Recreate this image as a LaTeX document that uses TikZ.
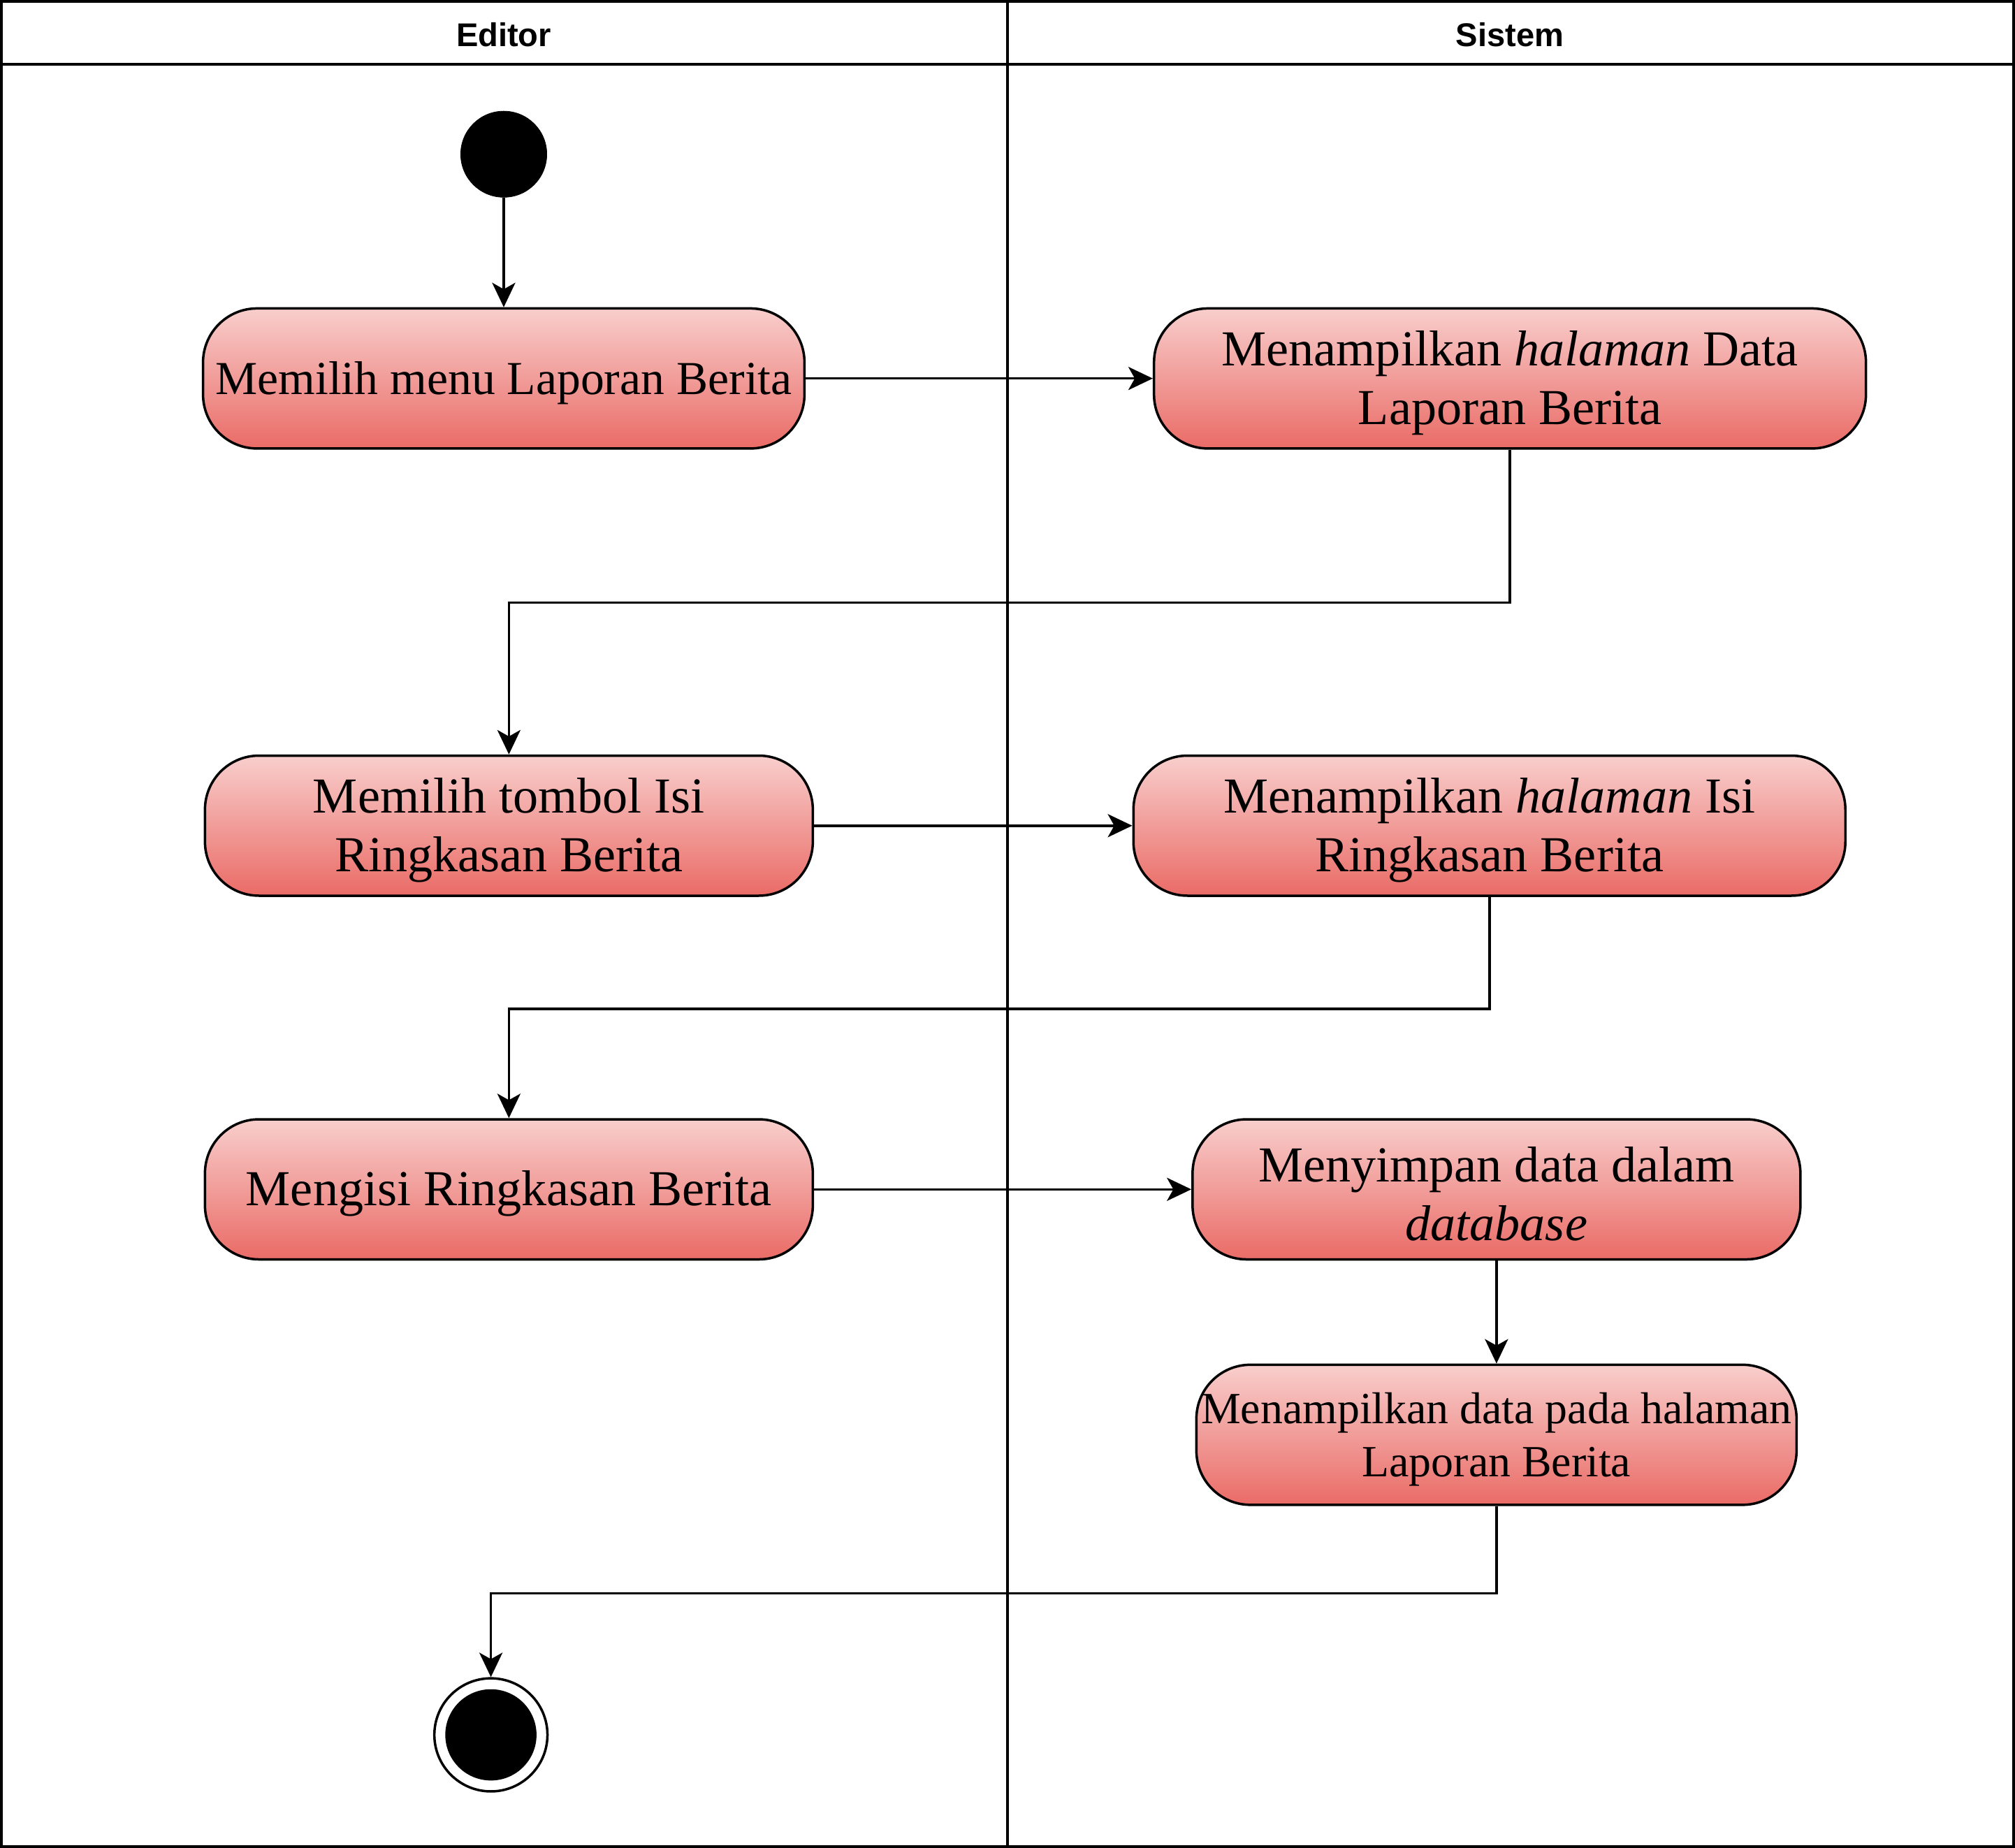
\documentclass[tikz,border=0pt]{standalone}
\usepackage{fontspec}
\setmainfont{Liberation Serif}
\setsansfont{Liberation Sans}
\usetikzlibrary{arrows.meta}
\definecolor{fillTop}{HTML}{F8CECC}
\definecolor{fillBot}{HTML}{EA6B66}
\tikzset{
  actbox/.style={draw=black, line width=1.9pt, rounded corners=42pt, top color=fillTop, bottom color=fillBot,
    minimum height=109pt, inner sep=0pt},
  acttext/.style={inner sep=0pt, align=center, font=\fontsize{39.2}{46}\selectfont},
  acttextmid/.style={acttext, font=\fontsize{36.8}{44}\selectfont},
  acttextsmall/.style={acttext, font=\fontsize{34.7}{41}\selectfont},
  arr/.style={draw=black, line width=1.9pt, -{Stealth[length=19pt, width=18pt, inset=5pt]}},
  frameline/.style={draw=black, line width=2pt},
  lanehead/.style={font=\sffamily\bfseries\fontsize{25.6}{30}\selectfont, inner sep=0pt}
}
\begin{document}
\begin{tikzpicture}[x=1pt, y=-1pt]
\useasboundingbox (0,0) rectangle (1568,1438);
% frame
\draw[frameline] (1,1) rectangle (1567,1437);
\draw[frameline] (1,50) -- (1567,50);
\draw[frameline] (784,1) -- (784,1437);
\node[lanehead] (hEditor) at (392,27) {Editor};
\node[lanehead] (hSistem) at (1175,27) {Sistem};
% start
\node[circle, fill=black, draw=black, minimum size=67pt, inner sep=0pt] (start) at (392,120) {};
% activities
\node[actbox, minimum width=468pt] (b1) at (392,294.5) {};
\node[acttextmid] (t1) at ([yshift=-3.5pt]b1.center) {Memilih menu Laporan Berita};
\node[actbox, minimum width=554pt] (b2) at (1175,294.5) {};
\node[acttext] (t2) at ([yshift=-3.5pt]b2.center) {Menampilkan \textit{halaman} Data\\Laporan Berita};
\node[actbox, minimum width=473pt] (b3) at (396,642.5) {};
\node[acttext] (t3) at ([yshift=-3.5pt]b3.center) {Memilih tombol Isi\\Ringkasan Berita};
\node[actbox, minimum width=554pt] (b4) at (1159,642.5) {};
\node[acttext] (t4) at ([yshift=-3.5pt]b4.center) {Menampilkan \textit{halaman} Isi\\Ringkasan Berita};
\node[actbox, minimum width=473pt] (b5) at (396,925.5) {};
\node[acttext] (t5) at ([yshift=-3.5pt]b5.center) {Mengisi Ringkasan Berita};
\node[actbox, minimum width=473pt] (b6) at (1164.5,925.5) {};
\node[acttext] (t6) at ([yshift=-3.5pt]b6.center) {Menyimpan data dalam\\\textit{database}};
\node[actbox, minimum width=467pt] (b7) at (1164.5,1116.5) {};
\node[acttextsmall] (t7) at ([yshift=-3.5pt]b7.center) {Menampilkan data pada halaman\\Laporan Berita};
% end
\node[circle, draw=black, line width=1.9pt, fill=white, minimum size=88pt, inner sep=0pt] (end) at (382,1350) {};
\node[circle, fill=black, minimum size=71pt, inner sep=0pt] (endin) at (end.center) {};
% connectors
\draw[arr] (start.south) -- (b1.north);
\draw[arr] (b1.east) -- (b2.west);
\draw[arr] (b2.south) -- ++(0,119) -| (b3.north);
\draw[arr] (b3.east) -- (b4.west);
\draw[arr] (b4.south) -- ++(0,87) -| (b5.north);
\draw[arr] (b5.east) -- (b6.west);
\draw[arr] (b6.south) -- (b7.north);
\draw[arr] (b7.south) -- ++(0,68) -| (end.north);
\end{tikzpicture}
\end{document}
